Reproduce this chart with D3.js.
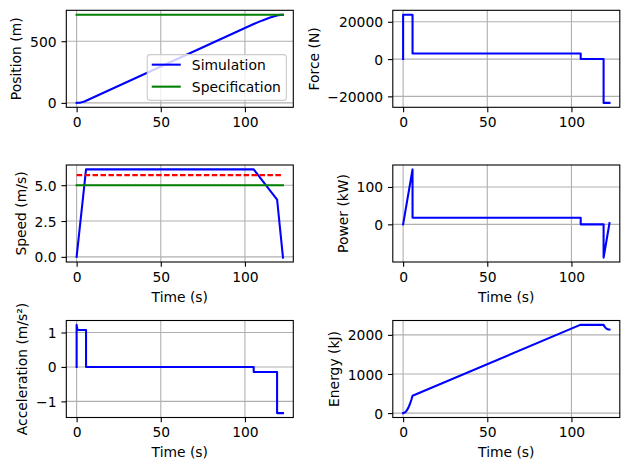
<!DOCTYPE html>
<html>
<head>
<meta charset="utf-8">
<script src="https://cdn.jsdelivr.net/npm/d3@7/dist/d3.min.js"></script>
<style>
  html, body { margin: 0; padding: 0; background: #ffffff; }
  svg { display: block; }
  text { font-family: "DejaVu Sans", sans-serif; }
</style>
</head>
<body>
<svg id="chart" width="629" height="470"></svg>
<script>
// ---------------- data ----------------
const timeTicks = [0, 50, 100];
const limitTime = [0, 122.6];

const posTime = [0, 1, 2, 3, 4, 5, 5.6, 105.2, 110, 115, 119.1, 120, 121, 122, 122.6];
const posSim  = [0, 0.5, 2.1, 4.8, 8.6, 13.4, 17, 640, 667, 692, 709, 712, 714, 715, 715.2];
const posSpec = [715, 715];
const posTicks = [0, 500];

const forceTime = [0, 0, 5.6, 5.6, 105.5, 105.5, 119.1, 119.1, 122.6];
const forceVal  = [0, 23800, 23800, 3000, 3000, 0, 0, -23500, -23500];
const forceTicks = [-20000, 0, 20000];

const speedTime  = [0, 5.6, 105.2, 119.1, 122.6];
const speedSim   = [0, 6.1, 6.1, 4.0, -0.05];
const speedLimit = [5.7, 5.7];
const speedSpec  = [5.0, 5.0];
const speedTicks = [0, 2.5, 5.0];

const powerTime = [0, 5.6, 5.6, 105.5, 105.5, 119.1, 119.1, 122.6];
const powerVal  = [0, 147, 17.6, 17.6, 0, 0, -89, 3];
const powerTicks = [0, 100];

const accTime = [0, 0, 0.5, 5.6, 5.6, 105.2, 105.2, 119.1, 119.1, 122.6];
const accVal  = [0, 1.22, 1.07, 1.07, 0, 0, -0.146, -0.146, -1.34, -1.34];
const accTicks = [-1, 0, 1];

const energyTime = [0, 1, 2, 3, 4, 5, 5.6, 105.2, 119.1, 119.8, 120.6, 121.5, 122.6];
const energyVal  = [0, 14, 56, 127, 226, 353, 443, 2255, 2255, 2205, 2165, 2142, 2135];
const energyTicks = [0, 1000, 2000];

// ---------------- layout / style ----------------
const FS = 13.89;
const TICK = 4.86, PAD = 4.86;
const colX = [66.3, 392.8], axW = 227;
const rowY = [10.3, 165, 320.5], axH = 97;
const BLUE = "#0000ff", GREEN = "#008000", RED = "#ff0000";

const intFmt = d => (d < 0 ? "\u2212" + Math.abs(d) : String(d));
const f1 = d3.format(".1f");
const oneFmt = d => (d < 0 ? "\u2212" + f1(Math.abs(d)) : f1(d));

const panels = [
  { col: 0, row: 0, ylabel: "Position (m)", yticks: posTicks, fmt: intFmt, xlabel: false, legend: true,
    series: [ { t: posTime, v: posSim, color: BLUE, name: "Simulation" },
              { t: limitTime, v: posSpec, color: GREEN, name: "Specification" } ] },
  { col: 1, row: 0, ylabel: "Force (N)", yticks: forceTicks, fmt: intFmt, xlabel: false,
    series: [ { t: forceTime, v: forceVal, color: BLUE } ] },
  { col: 0, row: 1, ylabel: "Speed (m/s)", yticks: speedTicks, fmt: oneFmt, xlabel: true,
    series: [ { t: speedTime, v: speedSim, color: BLUE },
              { t: limitTime, v: speedLimit, color: RED, dash: "5.55,2.4" },
              { t: limitTime, v: speedSpec, color: GREEN } ] },
  { col: 1, row: 1, ylabel: "Power (kW)", yticks: powerTicks, fmt: intFmt, xlabel: true,
    series: [ { t: powerTime, v: powerVal, color: BLUE } ] },
  { col: 0, row: 2, ylabel: "Acceleration (m/s\u00B2)", yticks: accTicks, fmt: intFmt, xlabel: true,
    series: [ { t: accTime, v: accVal, color: BLUE } ] },
  { col: 1, row: 2, ylabel: "Energy (kJ)", yticks: energyTicks, fmt: intFmt, xlabel: true,
    series: [ { t: energyTime, v: energyVal, color: BLUE } ] }
];

const svg = d3.select("#chart");
svg.append("rect").attr("width", 629).attr("height", 470).attr("fill", "#ffffff");

function padded(ext) {
  const r = ext[1] - ext[0];
  return [ext[0] - 0.05 * r, ext[1] + 0.05 * r];
}

panels.forEach((p, i) => {
  const x0 = colX[p.col], y0 = rowY[p.row];
  const g = svg.append("g").attr("transform", `translate(${x0},${y0})`);

  const allT = p.series.flatMap(s => s.t);
  const allV = p.series.flatMap(s => s.v);
  const x = d3.scaleLinear().domain(padded(d3.extent(allT))).range([0, axW]);
  const y = d3.scaleLinear().domain(padded(d3.extent(allV))).range([axH, 0]);

  // grid
  const grid = g.append("g");
  timeTicks.forEach(t => grid.append("line")
    .attr("x1", x(t)).attr("x2", x(t)).attr("y1", 0).attr("y2", axH)
    .attr("stroke", "#b0b0b0").attr("stroke-width", 1.1));
  p.yticks.forEach(v => grid.append("line")
    .attr("x1", 0).attr("x2", axW).attr("y1", y(v)).attr("y2", y(v))
    .attr("stroke", "#b0b0b0").attr("stroke-width", 1.1));

  // clip
  const cid = "clip" + i;
  g.append("clipPath").attr("id", cid).append("rect")
    .attr("x", 0).attr("y", 0).attr("width", axW).attr("height", axH);

  const line = d3.line().x(d => x(d[0])).y(d => y(d[1]));
  const lines = g.append("g").attr("clip-path", `url(#${cid})`);
  p.series.forEach(s => {
    const pts = s.t.map((t, k) => [t, s.v[k]]);
    lines.append("path").attr("d", line(pts))
      .attr("fill", "none").attr("stroke", s.color).attr("stroke-width", 2.08)
      .attr("stroke-linejoin", "round")
      .attr("stroke-linecap", s.dash ? "butt" : "square")
      .attr("stroke-dasharray", s.dash || null);
  });

  // axes
  const xa = g.append("g").attr("transform", `translate(0,${axH})`)
    .call(d3.axisBottom(x).tickValues(timeTicks).tickFormat(intFmt).tickSize(TICK).tickPadding(PAD));
  const ya = g.append("g")
    .call(d3.axisLeft(y).tickValues(p.yticks).tickFormat(p.fmt).tickSize(TICK).tickPadding(PAD));
  [xa, ya].forEach(a => {
    a.select(".domain").remove();
    a.selectAll("line").attr("stroke", "#000").attr("stroke-width", 1.1);
    a.selectAll("text").attr("fill", "#000").attr("font-size", FS)
      .attr("font-family", "DejaVu Sans, sans-serif");
  });
  xa.selectAll("text").attr("dy", "0.73em");
  ya.selectAll("text").attr("dy", "0.36em");

  // spines
  g.append("rect").attr("x", 0).attr("y", 0).attr("width", axW).attr("height", axH)
    .attr("fill", "none").attr("stroke", "#000").attr("stroke-width", 1.1);

  // y label
  let maxW = 0;
  ya.selectAll("text").each(function () { maxW = Math.max(maxW, this.getComputedTextLength()); });
  const lx = -(TICK + PAD + maxW + 5.56 + 0.22 * FS);
  g.append("text").attr("transform", `translate(${lx},${axH / 2}) rotate(-90)`)
    .attr("text-anchor", "middle").attr("font-size", FS).attr("fill", "#000")
    .text(p.ylabel);

  if (p.xlabel) {
    g.append("text").attr("x", axW / 2).attr("y", axH + 39.8)
      .attr("text-anchor", "middle").attr("font-size", FS).attr("fill", "#000")
      .text("Time (s)");
  }

  if (p.legend) {
    const lg = g.append("g");
    const labels = p.series.map(s => s.name);
    const tmp = lg.append("text").attr("font-size", FS).text(labels[0]);
    const tw = Math.max(...labels.map(l => { tmp.text(l); return tmp.node().getComputedTextLength(); }));
    tmp.remove();
    const w = 5.56 * 2 + 27.8 + 11.1 + tw, h = 45.7;
    const lx0 = axW - 6.94 - w, ly0 = axH - 6.94 - h;
    lg.append("rect").attr("x", lx0).attr("y", ly0).attr("width", w).attr("height", h)
      .attr("rx", 2.8).attr("fill", "#ffffff").attr("fill-opacity", 0.8)
      .attr("stroke", "#cccccc").attr("stroke-width", 1.1);
    p.series.forEach((s, k) => {
      const cy = ly0 + 10 + k * 22;
      lg.append("line").attr("x1", lx0 + 4.5).attr("x2", lx0 + 4.5 + 29).attr("y1", cy).attr("y2", cy)
        .attr("stroke", s.color).attr("stroke-width", 2.08);
      lg.append("text").attr("x", lx0 + 4.5 + 29 + 11.1).attr("y", cy).attr("dy", "0.36em")
        .attr("font-size", FS).attr("fill", "#000").text(s.name);
    });
  }
});
</script>
</body>
</html>
